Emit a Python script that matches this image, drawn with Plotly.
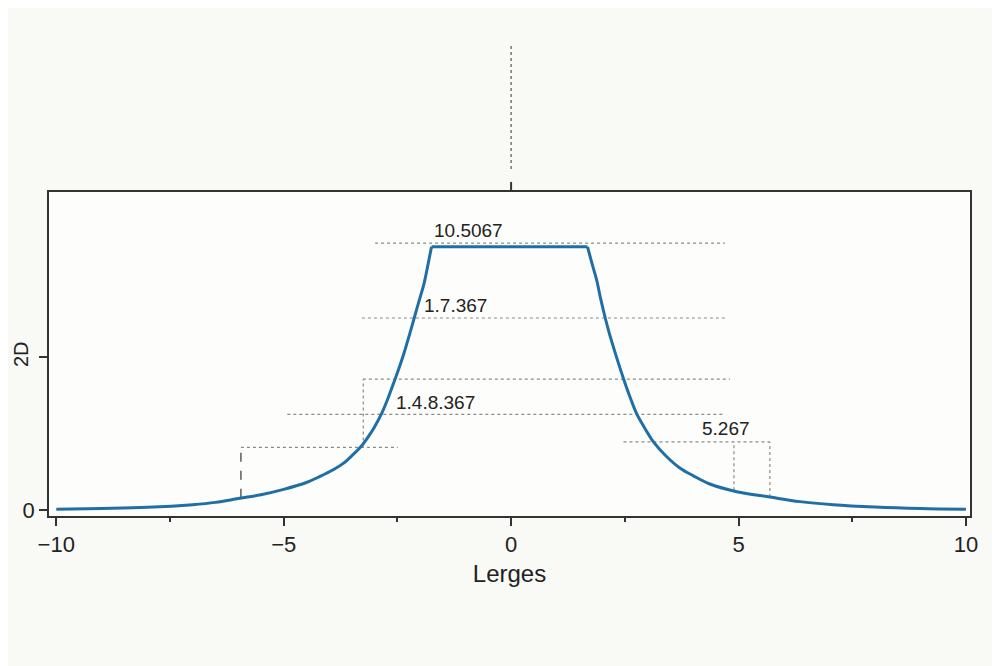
import plotly.graph_objects as go

# Curve
left_x = [-10, -9, -8, -7, -6.5, -6, -5.5, -5, -4.5, -4.2, -3.9, -3.69, -3.5, -3.3, -3.15, -3.0, -2.84,
          -2.7, -2.57, -2.45, -2.35, -2.24, -2.13, -2.02, -1.91, -1.83, -1.75]
left_y = [0.01, 0.02, 0.035, 0.07, 0.10, 0.15, 0.20, 0.27, 0.36, 0.44, 0.53, 0.61, 0.71, 0.83, 0.95, 1.09, 1.27,
          1.47, 1.68, 1.88, 2.06, 2.28, 2.51, 2.74, 2.97, 3.20, 3.44]
plateau_x = [-1.75, 1.68]
plateau_y = [3.44, 3.44]
right_x = [1.68, 1.78, 1.88, 1.97, 2.07, 2.16, 2.25, 2.36, 2.47, 2.6, 2.76, 2.95, 3.13, 3.4, 3.71, 4.0,
           4.37, 4.96, 5.69, 6.35, 7.08, 8, 9, 10]
right_y = [3.44, 3.22, 3.01, 2.76, 2.51, 2.31, 2.13, 1.92, 1.72, 1.50, 1.26, 1.06, 0.89, 0.71, 0.55, 0.45,
           0.34, 0.24, 0.17, 0.11, 0.07, 0.04, 0.02, 0.01]

# Reference levels (y, x_start, x_end)
h_level_y = [3.49, 2.51, 1.71, 1.25, 0.82, 0.89]
h_level_x0 = [-2.99, -3.28, -3.26, -4.92, -5.94, 2.47]
h_level_x1 = [4.70, 4.70, 4.81, 4.69, -2.49, 5.69]
# Vertical drops (x, y_start, y_end)
v_drop_x = [-3.25, -5.94, 4.90, 5.69]
v_drop_y0 = [0.83, 0.16, 0.26, 0.17]
v_drop_y1 = [1.71, 0.82, 0.89, 0.89]

# Labels
label_text = ["10.5067", "1.7.367", "1.4.8.367", "5.267"]
label_x = [-1.74, -1.96, -2.57, 4.16]
label_y = [3.65, 2.67, 1.40, 1.06]

x_tickvals = [-10, -5, 0, 5, 10]
y_tickvals = [0, 2]
y_ticktext = ["0", ""]

BLUE = "#1f6fa5"
FONT = "Liberation Sans, Arial, sans-serif"

fig = go.Figure()
for xs, ys, shape in [(left_x, left_y, "spline"), (plateau_x, plateau_y, "linear"), (right_x, right_y, "spline")]:
    fig.add_trace(go.Scatter(x=xs, y=ys, mode="lines",
                             line=dict(color=BLUE, width=3, shape=shape, smoothing=1.0),
                             showlegend=False, hoverinfo="skip"))

for y, x0, x1 in zip(h_level_y, h_level_x0, h_level_x1):
    fig.add_shape(type="line", xref="x", yref="y", x0=x0, x1=x1, y0=y, y1=y,
                  line=dict(color="#8a8a8a", width=1.2, dash="dot"), layer="below")

for i, (x, y0, y1) in enumerate(zip(v_drop_x, v_drop_y0, v_drop_y1)):
    col = "#333333" if i == 1 else "#8a8a8a"
    dash = "dash" if i == 1 else "dot"
    fig.add_shape(type="line", xref="x", yref="y", x0=x, x1=x, y0=y0, y1=y1,
                  line=dict(color=col, width=1.2, dash=dash), layer="below")

for t, x, y in zip(label_text, label_x, label_y):
    fig.add_annotation(x=x, y=y, text=t, showarrow=False, xanchor="left", yanchor="middle",
                       font=dict(family=FONT, size=19, color="#222222"))

# y-axis title placed close to the axis
fig.add_annotation(xref="paper", yref="paper", x=-0.0304, y=0.5, text="2D", textangle=-90,
                   showarrow=False, xanchor="center", yanchor="middle",
                   font=dict(family=FONT, size=20, color="#222222"))

# top tick and dotted line above the plot at x = 0
fig.add_shape(type="line", xref="x", yref="paper", x0=0, x1=0, y0=1.0, y1=1.031,
              line=dict(color="#333333", width=2))
fig.add_shape(type="line", xref="x", yref="paper", x0=0, x1=0, y0=1.071, y1=1.451,
              line=dict(color="#555555", width=1.2, dash="dot"))

fig.update_layout(
    width=1000, height=666,
    margin=dict(l=41, r=38, t=184, b=158, autoexpand=False),
    paper_bgcolor="#f9f9f5",
    plot_bgcolor="#fdfdfb",
    font=dict(family=FONT, size=20, color="#222222"),
    xaxis=dict(range=[-10.16, 10.09], tickvals=x_tickvals, ticks="outside", ticklen=8,
               tickwidth=1.5, tickcolor="#333333", showline=True, linecolor="#333333",
               linewidth=1.5, mirror=True, showgrid=False, zeroline=False, automargin=False,
               minor=dict(dtick=2.5, tick0=0, ticks="outside", ticklen=4, tickcolor="#333333", showgrid=False),
               title=dict(text="Lerges", standoff=9), tickfont=dict(size=22)),
    yaxis=dict(range=[-0.078, 4.157], tickvals=y_tickvals, ticktext=y_ticktext,
               ticks="outside", ticklen=8, tickwidth=1.5, tickcolor="#333333",
               showline=True, linecolor="#333333", linewidth=1.5, mirror=True,
               showgrid=False, zeroline=False, automargin=False, tickfont=dict(size=22)),
)

fig.write_html("out.html")
